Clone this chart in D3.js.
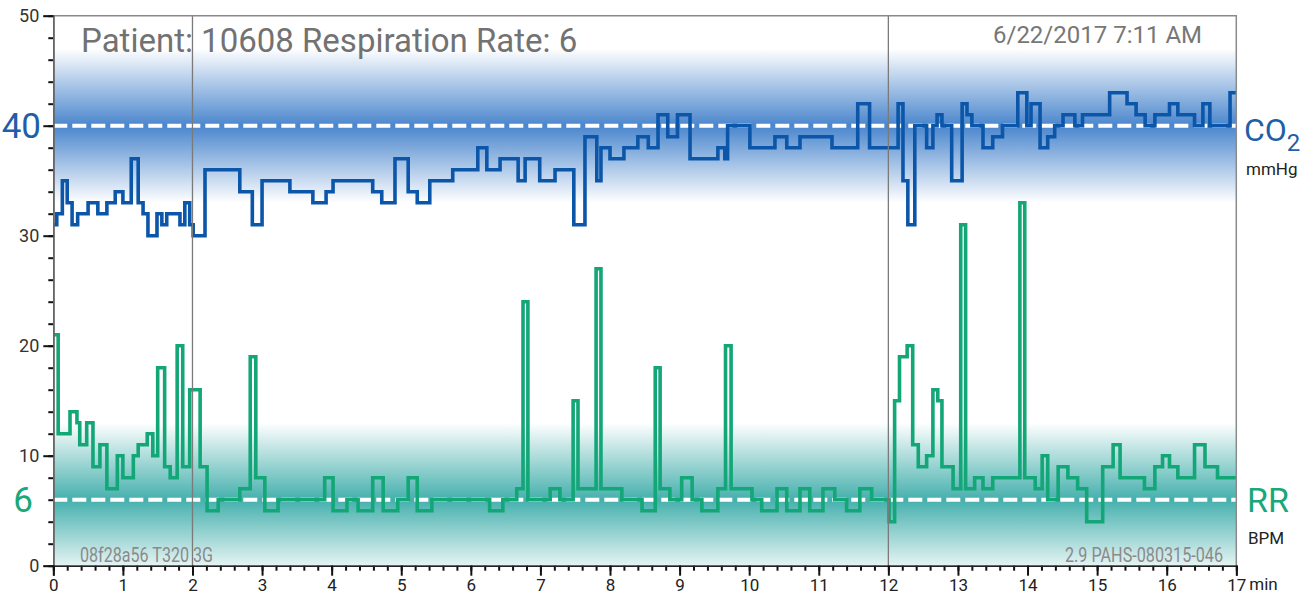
<!DOCTYPE html>
<html><head><meta charset="utf-8">
<script src="https://cdn.jsdelivr.net/npm/d3@7"></script>
<style>
html,body{margin:0;padding:0;background:#fff;}
svg{display:block;font-family:Roboto,"Noto Sans",sans-serif;}
</style></head><body>
<svg id="chart" width="1306" height="595"></svg>
<script>
// End-tidal CO2 (mmHg): minute at which each reading starts, and the reading
const co2Time = [0,0.05,0.13,0.2,0.27,0.35,0.5,0.64,0.77,0.89,1.0,1.12,1.22,1.29,1.36,1.49,1.56,1.63,1.82,1.89,1.96,2.01,2.18,2.68,2.86,3.0,3.4,3.73,3.92,4.02,4.59,4.72,4.91,5.1,5.23,5.41,5.74,6.1,6.23,6.42,6.68,6.78,6.99,7.21,7.48,7.64,7.81,7.87,8.0,8.2,8.4,8.55,8.69,8.83,8.97,9.15,9.55,9.65,9.69,10.01,10.37,10.54,10.73,11.19,11.56,11.73,12.14,12.21,12.28,12.38,12.55,12.64,12.7,12.77,12.91,13.06,13.13,13.2,13.36,13.5,13.64,13.86,13.99,14.05,14.18,14.29,14.39,14.51,14.68,14.79,15.18,15.43,15.56,15.69,15.83,16.04,16.16,16.4,16.52,16.62,16.91];
const co2Value = [31,32,35,33,31,32,33,32,33,34,33,37,33,32,30,32,31,32,31,33,31,30,36,34,31,35,34,33,34,35,34,33,37,34,33,35,36,38,36,37,35,37,35,36,31,39,35,38,37,38,39,38,41,39,41,37,38,37,40,38,39,38,39,38,42,38,42,35,31,40,38,40,41,40,35,42,41,40,38,39,40,43,40,42,38,39,40,41,40,41,43,42,41,40,41,42,41,40,42,40,43];

// Respiration rate (breaths per minute): minute at which each reading starts, and the reading
const rrTime = [0,0.07,0.24,0.34,0.38,0.48,0.57,0.67,0.77,0.92,1.0,1.15,1.22,1.35,1.43,1.5,1.6,1.68,1.78,1.86,1.96,2.11,2.21,2.37,2.68,2.83,2.91,3.04,3.23,3.9,4.02,4.22,4.38,4.59,4.74,4.95,5.1,5.23,5.44,6.27,6.46,6.66,6.75,6.82,7.14,7.28,7.47,7.54,7.8,7.87,8.17,8.46,8.65,8.72,8.86,9.03,9.18,9.32,9.55,9.66,9.74,10.04,10.18,10.4,10.54,10.73,10.87,11.06,11.23,11.4,11.59,11.76,12.01,12.09,12.16,12.27,12.35,12.43,12.55,12.64,12.71,12.77,12.93,13.04,13.11,13.24,13.36,13.5,13.89,13.96,14.11,14.21,14.29,14.44,14.58,14.72,14.85,15.08,15.23,15.33,15.68,15.83,15.94,16.04,16.16,16.4,16.55,16.73];
const rrValue = [21,12,14,13,11,13,9,11,7,10,8,10,11,12,10,18,9,8,20,9,16,9,5,6,7,19,8,5,6,8,5,6,5,8,5,6,8,5,6,5,6,7,24,6,7,6,15,7,27,7,6,5,18,7,6,8,6,5,7,20,7,6,5,7,5,7,5,7,6,5,7,6,4,15,19,20,11,9,10,16,15,9,7,31,7,8,7,8,33,8,7,10,6,9,8,7,4,9,11,8,7,9,10,9,8,11,9,8];

const xTicks = d3.range(0, 18);          // minutes
const yTicks = [0, 10, 20, 30, 40, 50];
const co2Target = 40;
const rrTarget = 6;
const endTime = 17;
const markers = [2, 12];                  // event markers (minutes)
const title = "Patient: 10608 Respiration Rate: 6";
const stamp = "6/22/2017 7:11 AM";
const deviceId = "08f28a56 T320 3G";
const versionId = "2.9 PAHS-080315-046";

const svg = d3.select("#chart");
const pL = 53.3, pR = 1236.3, pT = 15.7, pB = 565.7;
const x = d3.scaleLinear().domain([0, endTime]).range([pL, pR]);
const y = d3.scaleLinear().domain([0, 50]).range([pB, pT]);

const blue = "#0b56a8", green = "#13a677";
const blueLabel = "#1f5fa8", greenLabel = "#18a87a";

const defs = svg.append("defs");
defs.append("clipPath").attr("id", "plot")
  .append("rect").attr("x", pL).attr("y", pT).attr("width", pR - pL).attr("height", pB - pT);

function band(id, color) {
  const g = defs.append("linearGradient").attr("id", id)
    .attr("x1", 0).attr("x2", 0).attr("y1", 0).attr("y2", 1);
  g.append("stop").attr("offset", "0%").attr("stop-color", color).attr("stop-opacity", 0);
  g.append("stop").attr("offset", "50%").attr("stop-color", color).attr("stop-opacity", 1);
  g.append("stop").attr("offset", "100%").attr("stop-color", color).attr("stop-opacity", 0);
}
band("co2Band", "#4a86cd");
band("rrBand", "#45b0ad");

const plot = svg.append("g").attr("clip-path", "url(#plot)");
const bandHalf = 7;
plot.append("rect").attr("x", pL).attr("width", pR - pL)
  .attr("y", y(co2Target + bandHalf)).attr("height", y(co2Target - bandHalf) - y(co2Target + bandHalf))
  .attr("fill", "url(#co2Band)");
plot.append("rect").attr("x", pL).attr("width", pR - pL)
  .attr("y", y(rrTarget + bandHalf)).attr("height", y(rrTarget - bandHalf) - y(rrTarget + bandHalf))
  .attr("fill", "url(#rrBand)");

// target lines
[co2Target, rrTarget].forEach(v => {
  plot.append("line").attr("x1", pL).attr("x2", pR)
    .attr("y1", y(v)).attr("y2", y(v))
    .attr("stroke", "#fff").attr("stroke-width", 4).attr("stroke-dasharray", "14,5");
});

// event markers
markers.forEach(m => {
  svg.append("line").attr("x1", x(m)).attr("x2", x(m)).attr("y1", pT).attr("y2", pB)
    .attr("stroke", "#7a7a7a").attr("stroke-width", 1.3);
});

// frame: top and right
svg.append("path").attr("d", `M${pL},${pT}H${pR}V${pB}`)
  .attr("fill", "none").attr("stroke", "#8a8a8a").attr("stroke-width", 1.5);

// step traces
const line = d3.line().curve(d3.curveStepAfter).x(d => x(d[0])).y(d => y(d[1]));
const co2Pts = co2Time.map((t, i) => [t, co2Value[i]]);
co2Pts.push([endTime, co2Value[co2Value.length - 1]]);
const rrPts = rrTime.map((t, i) => [t, rrValue[i]]);
rrPts.push([endTime, rrValue[rrValue.length - 1]]);

plot.append("path").datum(rrPts).attr("d", line)
  .attr("fill", "none").attr("stroke", green).attr("stroke-width", 3.6).attr("stroke-linejoin", "miter");
plot.append("path").datum(co2Pts).attr("d", line)
  .attr("fill", "none").attr("stroke", blue).attr("stroke-width", 3.6).attr("stroke-linejoin", "miter");

// axes
const yMinor = svg.append("g").attr("transform", `translate(${pL},0)`)
  .call(d3.axisLeft(y).tickValues(d3.range(0, 51, 2)).tickSize(5).tickFormat(""));
const yMajor = svg.append("g").attr("transform", `translate(${pL},0)`)
  .call(d3.axisLeft(y).tickValues(yTicks).tickSize(10).tickPadding(4).tickFormat(v => v === co2Target ? "" : v));
const xMinor = svg.append("g").attr("transform", `translate(0,${pB})`)
  .call(d3.axisBottom(x).tickValues(d3.range(0, endTime + 0.001, 0.2)).tickSize(5).tickFormat(""));
const xMajor = svg.append("g").attr("transform", `translate(0,${pB})`)
  .call(d3.axisBottom(x).tickValues(xTicks).tickSize(10).tickPadding(3).tickFormat(d3.format("d")));

[yMinor, yMajor, xMinor, xMajor].forEach(g => {
  g.select(".domain").attr("stroke", "#666").attr("stroke-width", 1.6);
  g.selectAll(".tick line").attr("stroke", "#111").attr("stroke-width", 2);
});
yMajor.selectAll(".tick text").attr("font-size", 18).attr("fill", "#333").attr("font-family", "Roboto");
xMajor.selectAll(".tick text").attr("font-size", 17).attr("fill", "#222").attr("font-family", "Roboto");
xMajor.select(".domain").attr("stroke", "#222");

svg.append("text").attr("x", x(endTime) + 13).attr("y", 590)
  .attr("font-size", 17).attr("fill", "#222").text("min");

// target labels
svg.append("text").attr("x", 41).attr("y", y(co2Target)).attr("dy", "0.36em")
  .attr("text-anchor", "end").attr("font-size", 35).attr("fill", blueLabel).text(co2Target);
svg.append("text").attr("x", 33).attr("y", y(rrTarget)).attr("dy", "0.36em")
  .attr("text-anchor", "end").attr("font-size", 35).attr("fill", greenLabel).text(rrTarget);

// series labels on the right
const co2Lab = svg.append("text").attr("x", 1244).attr("y", 141).attr("fill", blueLabel);
co2Lab.append("tspan").attr("font-size", 32).text("CO");
co2Lab.append("tspan").attr("font-size", 24).attr("dy", 10).text("2");
svg.append("text").attr("x", 1246).attr("y", 175).attr("font-size", 17).attr("fill", "#222").text("mmHg");
svg.append("text").attr("x", 1247).attr("y", 512).attr("font-size", 34).attr("fill", greenLabel).text("RR");
svg.append("text").attr("x", 1248).attr("y", 544).attr("font-size", 17).attr("fill", "#222").text("BPM");

// header
svg.append("text").attr("x", 81).attr("y", 52).attr("font-size", 33).attr("fill", "#727272").text(title);
svg.append("text").attr("x", 1202).attr("y", 43).attr("text-anchor", "end")
  .attr("font-size", 24).attr("fill", "#777").text(stamp);

// footer identifiers
svg.append("text").attr("x", 80).attr("y", 562).attr("font-size", 20).attr("fill", "#8a8a8a")
  .attr("textLength", 133).attr("lengthAdjust", "spacingAndGlyphs").text(deviceId);
svg.append("text").attr("x", 1065).attr("y", 562).attr("font-size", 20).attr("fill", "#8a8a8a")
  .attr("textLength", 158).attr("lengthAdjust", "spacingAndGlyphs").text(versionId);
</script>
</body></html>
